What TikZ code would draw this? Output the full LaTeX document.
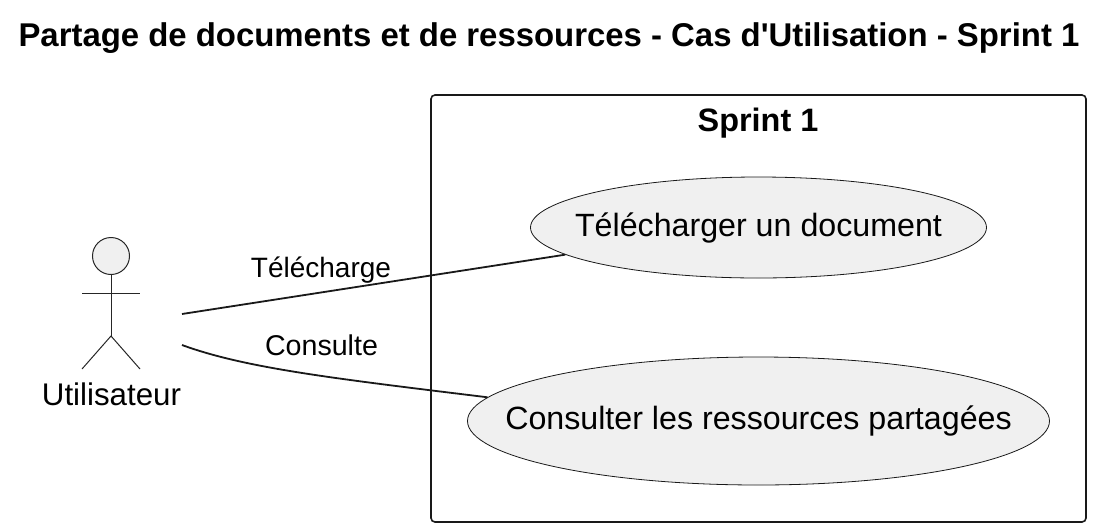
\documentclass[tikz,border=0pt]{standalone}
\usepackage{fontspec}
\setmainfont{Liberation Sans}[Ligatures=TeXOff]
\usetikzlibrary{shapes.geometric}
\tikzset{
  usecase/.style={ellipse, draw=black!90, fill=black!6, line width=0.8pt, inner sep=0pt, font=\fontsize{32.2}{38}\selectfont},
  link/.style={line width=1.8pt, black!90},
  stick/.style={line width=1pt, black!85},
}
\begin{document}
\begin{tikzpicture}[x=1pt,y=-1pt,every node/.style={inner sep=0pt}]
  \useasboundingbox (0,0) rectangle (1112,531);
  \node (title) at (549,38) {\fontsize{32.9}{38}\selectfont\bfseries Partage de documents et de ressources - Cas d'Utilisation - Sprint 1};

  \draw [line width=1.6pt, black!90, rounded corners=4pt] (431,95) rectangle (1086,522);
  \node (sprint) at (758,123) {\fontsize{32.4}{38}\selectfont\bfseries Sprint 1};

  \node [usecase, minimum width=456pt, minimum height=101pt] (telecharger) at (758.5,227.5) {\makebox[0pt]{Télécharger un document}};
  \node [usecase, minimum width=582pt, minimum height=128pt] (consulter) at (758.5,421) {\makebox[0pt]{Consulter les ressources partagées}};

  % actor
  \draw [stick, fill=black!6] (111,256) circle [radius=18.5];
  \draw [stick] (111,274.5) -- (111,336) (82,293) -- (140,293);
  \draw [stick] (82,369) -- (111,336) -- (140,369);
  \node (utilisateur) at (111.5,394) {\fontsize{31.3}{36}\selectfont Utilisateur};

  \coordinate (a1) at (182,314);
  \coordinate (a2) at (182,345);
  \draw [link] (a1) -- (telecharger.188.6);
  \draw [link] (a2) .. controls (245,368) and (330,378) .. (consulter.175.6);
  \node (lab1) at (321,270) {\fontsize{28}{32}\selectfont Télécharge};
  \node (lab2) at (321.5,345) {\fontsize{28.6}{32}\selectfont Consulte};
\end{tikzpicture}
\end{document}
